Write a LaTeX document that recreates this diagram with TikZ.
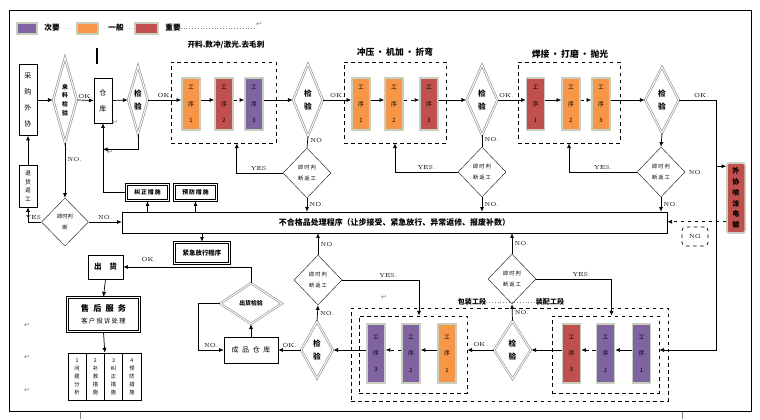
\documentclass[tikz,border=0pt]{standalone}
\usepackage{fontspec}
\newfontfamily\cjk{Noto Sans CJK SC}
\newfontfamily\djv{DejaVu Sans}
\usetikzlibrary{shapes.geometric,arrows.meta}

\definecolor{cyao}{HTML}{8064A2}
\definecolor{yban}{HTML}{F79646}
\definecolor{zyao}{HTML}{C0504D}
\definecolor{gbian}{HTML}{C8CFBF}

\tikzset{
	lbl/.style={font=\fontsize{5}{5}\selectfont, inner sep=0pt},
	gx/.style={rectangle, fill=#1, draw=gbian, line width=1.3pt, minimum width=0.54cm, minimum height=1.56cm, inner sep=0pt, align=center, font=\cjk\fontsize{5}{14}\selectfont},
	jy/.style={diamond, draw=gray!80, double=white, double distance=0.8pt, line width=0.6pt, inner sep=0pt, aspect=0.5, align=center, font=\cjk\bfseries\fontsize{6.5}{11}\selectfont},
	pd/.style={diamond, draw=black!85, line width=0.4pt, inner sep=0pt, minimum width=1.44cm, minimum height=1.5cm, align=center, font=\cjk\fontsize{4.5}{9}\selectfont},
	kx/.style={rectangle, draw, line width=0.5pt, inner sep=0pt, align=center, font=\cjk\fontsize{6}{13.5}\selectfont},
	sk/.style={rectangle, draw, line width=0.45pt, inner sep=0pt, align=center, font=\cjk\bfseries\fontsize{5}{6}\selectfont},
	skw/.style={line width=0.75pt},
	xk/.style={rectangle, draw, dashed, line width=0.6pt, inner sep=0pt},
	bt/.style={font=\cjk\bfseries\fontsize{#1}{#1}\selectfont, inner sep=0pt},
	pm/.style={font=\djv\fontsize{6}{6}\selectfont, text=gray, inner sep=0pt},
	lx/.style={line width=0.6pt}
}

\begin{document}
\begin{tikzpicture}[x=0.03cm, y=-0.03cm, >={Latex[length=4pt,width=3.5pt]}]
	\useasboundingbox (0,0) rectangle (760,419);
	\draw[line width=0.8pt] (9,10) rectangle (751,411);
	\draw[line width=1.8pt] (97,48) -- (97,64);
	\draw[gray] (80,412) -- (80,419);
	\draw[gray] (682,412) -- (682,419);
	%
	\node[gx=cyao, minimum width=0.6cm, minimum height=0.33cm] (lg1) at (27,28.5) {};
	\node[bt=6.5] (lt1) at (52,28) {次要};
	\node[gx=yban, minimum width=0.63cm, minimum height=0.33cm] (lg2) at (87.5,28.5) {};
	\node[bt=6.5] (lt2) at (116,28) {一般};
	\node[gx=zyao, minimum width=0.69cm, minimum height=0.33cm] (lg3) at (146.5,28.5) {};
	\node[bt=6.5] (lt3) at (173,28) {重要};
	\coordinate (lgend) at (254,28);
	\draw[gray, dotted] (lt1.east) -- (lg2.west);
	\draw[gray, dotted] (lg2.east) -- (lt2.west);
	\draw[gray, dotted] (lt2.east) -- (lg3.west);
	\draw[gray, dotted] (lt3.east) -- (lgend);
	\node[pm] (pm0) at (259,24) {↵};
	%
	\node[kx, minimum width=0.54cm, minimum height=2.13cm] (cg) at (28,100) {采\\购\\外\\协};
	\node[jy, minimum width=0.72cm, minimum height=2.55cm, font=\cjk\bfseries\fontsize{5}{7.5}\selectfont] (ll) at (65,100) {来\\料\\检\\验};
	\node[kx, minimum width=0.54cm, minimum height=1.35cm] (ck) at (103,100.5) {仓\\库};
	\node[pm] (pm1) at (115,122) {↵};
	\node[jy, minimum width=0.6cm, minimum height=2.04cm] (j1) at (138,100) {检\\验};
	%
	\node[xk, minimum width=3.15cm, minimum height=2.43cm] (k1) at (223.5,102.5) {};
	\node[bt=6.5] (t1) at (226,45) {开料.数冲/激光.去毛刺};
	\node[gx=yban] (g11) at (191,104) {工\\序\\1};
	\node[gx=zyao] (g12) at (224,104) {工\\序\\2};
	\node[gx=cyao] (g13) at (254,104) {工\\序\\3};
	\node[jy, minimum width=0.9cm, minimum height=2.16cm] (j2) at (308,100) {检\\验};
	\node[pd] (s2) at (307,173) {即\,时\,判\\断\,返\,工};
	%
	\node[xk, minimum width=3.06cm, minimum height=2.43cm] (k2) at (395,102.5) {};
	\node[bt=7.5] (t2) at (395,52) {冲压\,·\,机加\,·\,折弯};
	\node[gx=yban] (g21) at (361,104) {工\\序\\1};
	\node[gx=yban] (g22) at (394,104) {工\\序\\2};
	\node[gx=zyao] (g23) at (429,104) {工\\序\\3};
	\node[jy, minimum width=0.93cm, minimum height=2.1cm] (j3) at (482,100) {检\\验};
	\node[pd] (s3) at (482,172) {即\,时\,判\\断\,返\,工};
	%
	\node[xk, minimum width=3.06cm, minimum height=2.43cm] (k3) at (569,102.5) {};
	\node[bt=7.5] (t3) at (570,54) {焊接\,·\,打磨\,·\,抛光};
	\node[gx=zyao] (g31) at (535.5,104) {工\\序\\1};
	\node[gx=yban] (g32) at (571,104) {工\\序\\2};
	\node[gx=yban] (g33) at (601,104) {工\\序\\3};
	\node[jy, minimum width=1.02cm, minimum height=1.98cm] (j4) at (662,100) {检\\验};
	\node[pd] (s4) at (661,172) {即\,时\,判\\断\,返\,工};
	\node[lbl, right=3pt] (n4) at (s4.east) {NO.};
	\node[gx=zyao, rounded corners=2pt, minimum height=2.1cm, font=\cjk\bfseries\fontsize{6}{9.2}\selectfont] (wx) at (736,198) {外\\协\\喷\\涂\\电\\镀};
	\node[xk, rounded corners=3pt, minimum width=0.78cm, minimum height=0.57cm, font=\fontsize{5}{5}\selectfont] (ng) at (695,236.5) {NG};
	\coordinate (zx) at (716,100);
	\coordinate (wxin) at ([yshift=-0.12cm]wx.north west);
	\coordinate (wxout) at ([yshift=0.36cm]wx.south west);
	%
	\node[pd, minimum width=1.41cm, minimum height=1.44cm] (s1) at (65,222) {即时判\\断};
	\node[kx, minimum width=0.54cm, minimum height=1.26cm, font=\cjk\fontsize{5}{7.4}\selectfont] (th) at (28,186) {退\\货\\返\\工};
	\node[kx, minimum width=16.35cm, minimum height=0.63cm, font=\cjk\bfseries\fontsize{6.8}{7}\selectfont] (bh) at (394.5,222.5) {不合格品处理程序（让步接受、紧急放行、异常返修、报废补数）};
	\node[sk, minimum width=1.2cm, minimum height=0.42cm] (jz) at (147.5,192.5) {纠\,正\,措\,施};
	\node[sk, minimum width=1.2cm, minimum height=0.42cm] (yf) at (195.5,192.5) {预\,防\,措\,施};
	\node[sk, minimum width=1.59cm, minimum height=0.57cm, font=\cjk\bfseries\fontsize{5.5}{6}\selectfont] (jj) at (202,253) {紧急放行程序};
	\node[pm] (pm2) at (110,152) {↵};
	%
	\node[kx, minimum width=1.05cm, minimum height=0.72cm, font=\cjk\bfseries\fontsize{6.5}{7}\selectfont] (ch) at (105.5,267) {出\quad 货};
	\node[sk, minimum width=2.1cm, minimum height=0.96cm, font=\cjk\fontsize{5.5}{10.5}\selectfont] (sh) at (103.5,314.5) {{\bfseries\fontsize{7}{10.5}\selectfont 售\enspace 后\enspace 服\enspace 务}\\客\,户\,投\,诉\,处\,理};
	\foreach \n in {jz,yf,jj,sh}
		\draw[skw] ([shift={(-1.3pt,1.3pt)}]\n.north west) rectangle ([shift={(1.3pt,-1.3pt)}]\n.south east);
	\node[kx, minimum width=0.5475cm, minimum height=1.41cm, font=\cjk\fontsize{4.5}{6.8}\selectfont] (cs1) at (77.1,376.5) {1\\问\\题\\分\\析};
	\node[kx, minimum width=0.5475cm, minimum height=1.41cm, font=\cjk\fontsize{4.5}{6.8}\selectfont] (cs2) at (95.4,376.5) {2\\补\\救\\措\\施};
	\node[kx, minimum width=0.5475cm, minimum height=1.41cm, font=\cjk\fontsize{4.5}{6.8}\selectfont] (cs3) at (113.6,376.5) {3\\纠\\正\\措\\施};
	\node[kx, minimum width=0.5475cm, minimum height=1.41cm, font=\cjk\fontsize{4.5}{6.8}\selectfont] (cs4) at (131.9,376.5) {4\\预\\防\\措\\施};
	\node[pm] (pm3) at (27,325) {↵};
	\node[pm] (pm4) at (27,357) {↵};
	\node[pm] (pm5) at (27,390) {↵};
	%
	\node[jy, minimum width=1.86cm, minimum height=1.23cm, aspect=1.5, font=\cjk\bfseries\fontsize{5}{6}\selectfont] (cjy) at (251,303.5) {出货检验};
	\node[kx, minimum width=1.62cm, minimum height=0.78cm] (cp) at (251,350) {成\enspace 品\enspace 仓\enspace 库};
	\node[jy, minimum width=0.96cm, minimum height=1.71cm] (j6) at (317,350) {检\\验};
	\node[pd] (s5) at (318,280) {即\,时\,判\\断\,返\,工};
	%
	\node[xk, minimum width=9.51cm, minimum height=2.79cm] (ko) at (509.5,354.5) {};
	\node[xk, minimum width=3.24cm, minimum height=2.31cm] (kb) at (413,354.5) {};
	\node[xk, minimum width=3.21cm, minimum height=2.31cm] (kz) at (605.5,354.5) {};
	\node[bt=6] (bz) at (472,302) {包装工段};
	\node[bt=6] (zp) at (550,302) {装配工段};
	\draw[gray, dotted] (bz.east) -- (zp.west);
	\node[pm] (pm6) at (384,297) {↵};
	\node[gx=cyao, minimum height=1.77cm] (g43) at (376,353.5) {工\\序\\3};
	\node[gx=cyao, minimum height=1.77cm] (g42) at (411,353.5) {工\\序\\2};
	\node[gx=yban, minimum height=1.77cm] (g41) at (447,353.5) {工\\序\\1};
	\node[jy, minimum width=1.11cm, minimum height=1.74cm] (j7) at (512.5,350) {检\\验};
	\node[pd] (s6) at (512,279) {即\,时\,判\\断\,返\,工};
	\node[gx=zyao, minimum height=1.77cm] (g53) at (571.5,353.5) {工\\序\\3};
	\node[gx=cyao, minimum height=1.77cm] (g52) at (605.5,353.5) {工\\序\\2};
	\node[gx=cyao, minimum height=1.77cm] (g51) at (641.5,353.5) {工\\序\\1};
	%
	\draw[lx,->] (cg.east) -- (ll.west);
	\draw[lx,->] (ll.east) -- node[lbl, above=1.5pt] {OK.} (ck.west);
	\draw[lx,->] (ck.east) -- (j1.west);
	\draw[lx,->] (j1.east) -- node[lbl, above=1.5pt] {OK.} (j1.east -| g11.west);
	\draw[lx,->] (g11.east |- j1) -- (g12.west |- j1);
	\draw[lx,->,dashed] (g12.east |- j1) -- (g13.west |- j1);
	\draw[lx,->] (g13.east |- j2) -- (j2.west);
	\draw[lx,->] (j2.east) -- node[lbl, above=1.5pt] {OK.} (j2.east -| g21.west);
	\draw[lx,->] (g21.east |- j2) -- (g22.west |- j2);
	\draw[lx,->,dashed] (g22.east |- j2) -- (g23.west |- j2);
	\draw[lx,->] (g23.east |- j3) -- (j3.west);
	\draw[lx,->] (j3.east) -- node[lbl, above=1.5pt, pos=0.3] {OK.} (j3.east -| g31.west);
	\draw[lx,->] (g31.east |- j3) -- (g32.west |- j3);
	\draw[lx,->,dashed] (g32.east |- j3) -- (g33.west |- j3);
	\draw[lx,->] (g33.east |- j4) -- (j4.west);
	\draw[lx,->] (j4.east) -| node[lbl, above=1.5pt, pos=0.3] {OK.} (zx |- j7) -- (j7 -| kz.east);
	\draw[lx,->] (zx |- wxin) -- (wxin);
	\draw[lx,->,dashed] (wxout) -- (wxout -| bh.east);
	%
	\draw[lx] (j2.south) -- node[lbl, right=2pt, pos=0.4] {NO} (s2.north);
	\draw[lx,->] (s2.south) -- node[lbl, right=2pt] {NO.} (s2.south |- bh.north);
	\draw[lx,->] (s2.west) -| node[lbl, above=2pt, pos=0.25] {YES.} ([xshift=0.4cm]k1.south);
	\draw[lx] (j3.south) -- node[lbl, right=2pt, pos=0.4] {NO.} (s3.north);
	\draw[lx,->] (s3.south) -- node[lbl, right=2pt] {NO.} (s3.south |- bh.north);
	\draw[lx,->] (s3.west) -| node[lbl, above=2pt, pos=0.25] {YES.} (k2.south);
	\draw[lx,->] (j4.south) -- (s4.north);
	\draw[lx,->] (s4.south) -- node[lbl, right=2pt] {NO.} (s4.south |- bh.north);
	\draw[lx,->] (s4.west) -| node[lbl, above=2pt, pos=0.25] {YES.} (k3.south);
	%
	\draw[lx,->] (ll.south) -- node[lbl, right=2pt, pos=0.3] {NO.} (s1.north);
	\draw[lx,->] (s1.west) -| node[lbl, above=2pt, pos=0.3] {YES} (th.south);
	\draw[lx,->] (th.north) -- (cg.south);
	\draw[lx,->] (s1.east) -- node[lbl, above=2pt] {NO.} (s1.east -| bh.west);
	\draw[lx,->] (j1.south) |- ([yshift=-0.78cm]ck.south);
	\draw[lx,->] (jz.west) ++(-1.3pt,0) -| (ck.south);
	\draw[lx,->] (bh.north -| jz) -- ([yshift=-1.3pt]jz.south);
	\draw[lx,->] (bh.north -| yf) -- ([yshift=-1.3pt]yf.south);
	\draw[lx,->] (bh.south -| jj) -- ([yshift=1.3pt]jj.north);
	%
	\draw[lx,->] (cjy.north) |- node[lbl, above=4pt, pos=0.9] {OK.} (ch.east);
	\draw[lx,->] ([yshift=0pt]ch.south) -- ([yshift=1.3pt]sh.north);
	\draw[lx,->] ([yshift=-1.3pt]sh.south) -- (cs2.north east);
	\draw[lx,->] (cp.north) -- (cjy.south);
	\draw[lx,->] (cjy.west) -- ++(-21,0) |- node[lbl, above=2pt, pos=0.75] {NO.} (cp.west);
	\draw[lx,->] (j6.west) -- node[lbl, above=2pt] {OK.} (cp.east);
	\draw[lx,->] (j6.north) -- node[lbl, right=2pt] {NO.} (s5.south);
	\draw[lx,->] (s5.north) -- node[lbl, right=2pt] {NO.} (s5.north |- bh.south);
	\draw[lx,->] (s5.east) -| node[lbl, above=2pt, pos=0.3] {YES.} ([xshift=0.18cm]kb.north);
	\draw[lx,->] (g41.west |- j6) -- (g42.east |- j6);
	\draw[lx,->,dashed] (g42.west |- j6) -- (g43.east |- j6);
	\draw[lx,->] (g43.west |- j6) -- (j6.east);
	\draw[lx,->] (j7.west) -- node[lbl, above=3pt] {OK.} (j7 -| kb.east);
	\draw[lx,->] (j7.north) -- node[lbl, right=2pt] {NO.} (s6.south);
	\draw[lx,->] (s6.north) -- node[lbl, right=2pt] {NO.} (s6.north |- bh.south);
	\draw[lx,->] (s6.east) -| node[lbl, above=2pt, pos=0.3] {YES.} ([xshift=0.18cm]kz.north);
	\draw[lx,->] (g51.west |- j7) -- (g52.east |- j7);
	\draw[lx,->,dashed] (g52.west |- j7) -- (g53.east |- j7);
	\draw[lx,->] (g53.west |- j7) -- (j7.east);
\end{tikzpicture}
\end{document}
